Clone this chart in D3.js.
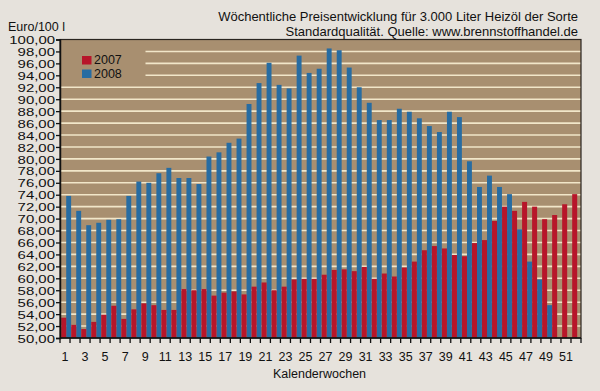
<!DOCTYPE html>
<html><head><meta charset="utf-8">
<script src="https://cdn.jsdelivr.net/npm/d3@7"></script>
<style>
html,body{margin:0;padding:0;background:#e6e2dc;}
svg{display:block;font-family:"Liberation Sans",Arial,sans-serif;}
</style></head>
<body>
<svg id="c" width="600" height="391"></svg>
<script>
const weeks = [1,2,3,4,5,6,7,8,9,10,11,12,13,14,15,16,17,18,19,20,21,22,23,24,25,26,27,28,29,30,31,32,33,34,35,36,37,38,39,40,41,42,43,44,45,46,47,48,49,50,51,52];
const values2007 = [53.4,52.2,51.5,52.7,53.9,55.4,53.2,54.8,55.8,55.5,54.7,54.7,58.2,58.0,58.2,57.1,57.6,57.8,57.3,58.6,59.3,58.0,58.6,59.8,59.9,59.9,60.6,61.4,61.5,61.2,61.9,59.9,60.8,60.3,61.8,62.8,64.7,65.4,65.0,63.9,63.7,65.9,66.4,69.6,72.0,71.3,72.8,72.0,69.9,70.6,72.4,74.1];
const values2008 = [73.8,71.3,68.9,69.3,69.8,69.9,73.8,76.2,76.0,77.6,78.5,76.8,76.8,75.8,80.4,81.1,82.7,83.4,89.2,92.7,96.1,92.4,91.8,97.3,94.4,95.1,98.5,98.2,95.3,92.0,89.4,86.5,86.5,88.4,87.9,86.8,85.5,84.5,87.9,87.0,79.6,75.3,77.2,75.3,74.1,68.2,62.8,59.8,55.5,null,null,null];
const yTicks = [50,52,54,56,58,60,62,64,66,68,70,72,74,76,78,80,82,84,86,88,90,92,94,96,98,100];
const xLabelWeeks = [1,3,5,7,9,11,13,15,17,19,21,23,25,27,29,31,33,35,37,39,41,43,45,47,49,51];
const seriesNames = ["2007","2008"];
const seriesColors = ["#b7162a","#276ca2"];
const titleLines = ["Wöchentliche Preisentwicklung für 3.000 Liter Heizöl der Sorte","Standardqualität. Quelle: www.brennstoffhandel.de"];
const yUnit = "Euro/100 l";
const xTitle = "Kalenderwochen";

const svg = d3.select("#c");
const L = 60, R = 581, T = 39.5, B = 338;
const x = d3.scaleBand().domain(weeks).range([L, R]).padding(0);
const y = d3.scaleLinear().domain([50, 100]).range([B, T]);
const bw = x.bandwidth();

svg.append("rect").attr("x", L).attr("y", T).attr("width", R - L).attr("height", B - T).attr("fill", "#a88f70");

svg.append("g").selectAll("line").data(yTicks.filter(d => d > 50 && d < 100)).join("line")
  .attr("x1", L).attr("x2", R).attr("y1", d => y(d)).attr("y2", d => y(d))
  .attr("stroke", "#f1e6c9").attr("stroke-width", 1.6);

svg.append("rect").attr("x", L + 0.5).attr("y", 44).attr("width", 85).attr("height", 38).attr("fill", "#a88f70");

const gb = svg.append("g");
gb.selectAll("rect.b").data(weeks.map((w, i) => ({w, v: values2008[i]})).filter(d => d.v != null)).join("rect")
  .attr("x", d => x(d.w) + bw * 0.62).attr("width", bw * 0.49)
  .attr("y", d => y(d.v)).attr("height", d => B - y(d.v)).attr("fill", seriesColors[1]);
gb.selectAll("rect.r").data(weeks.map((w, i) => ({w, v: values2007[i]}))).join("rect")
  .attr("x", d => x(d.w) + bw * 0.12).attr("width", bw * 0.5)
  .attr("y", d => y(d.v)).attr("height", d => B - y(d.v)).attr("fill", seriesColors[0]);

svg.append("rect").attr("x", L).attr("y", T).attr("width", R - L).attr("height", B - T)
  .attr("fill", "none").attr("stroke", "#2a2520").attr("stroke-width", 1.2);

const yAxis = svg.append("g").attr("transform", `translate(${L},0)`)
  .call(d3.axisLeft(y).tickValues(yTicks).tickSize(4).tickFormat(d => d3.format(".2f")(d).replace(".", ",")));
yAxis.select(".domain").attr("stroke", "#111").attr("stroke-width", 1.5);
yAxis.selectAll(".tick line").attr("stroke", "#111").attr("stroke-width", 1.3);
yAxis.selectAll(".tick text").attr("x", null).attr("dy", null)
  .attr("transform", "translate(-5,4.1) scale(1.3,1)")
  .attr("font-size", 11.5).attr("fill", "#111").attr("font-family", "Liberation Sans, Arial, sans-serif");

const xb = svg.append("g").attr("transform", `translate(0,${B})`);
xb.append("line").attr("x1", L).attr("x2", R).attr("stroke", "#111").attr("stroke-width", 1.6);
const bounds = weeks.map(w => x(w)).concat([R]);
xb.selectAll("line.t").data(bounds).join("line").attr("class", "t")
  .attr("x1", d => d).attr("x2", d => d).attr("y1", 0).attr("y2", 5).attr("stroke", "#111").attr("stroke-width", 1.3);
xb.selectAll("text").data(xLabelWeeks).join("text")
  .attr("x", d => x(d) + bw / 2).attr("y", 23).attr("text-anchor", "middle")
  .attr("font-size", 12.5).attr("fill", "#111").text(d => d);

svg.append("text").attr("x", (L + R) / 2 - 1).attr("y", 378).attr("text-anchor", "middle")
  .attr("font-size", 12.5).attr("fill", "#111").text(xTitle);

svg.append("text").attr("x", 8).attr("y", 31).attr("font-size", 12.5).attr("fill", "#111").text(yUnit);

svg.selectAll("text.title").data(titleLines).join("text").attr("class", "title")
  .attr("x", 578).attr("y", (d, i) => 20.5 + i * 15.5).attr("text-anchor", "end")
  .attr("font-size", 13).attr("fill", "#111").text(d => d);

const lg = svg.append("g");
seriesNames.forEach((n, i) => {
  lg.append("rect").attr("x", 82).attr("y", 56 + i * 13.5).attr("width", 9.5).attr("height", 8.5).attr("fill", seriesColors[i]);
  lg.append("text").attr("x", 94).attr("y", 64.3 + i * 13.5).attr("font-size", 12.5)
    .attr("transform", "").attr("fill", "#111").text(n);
});
</script>
</body></html>
